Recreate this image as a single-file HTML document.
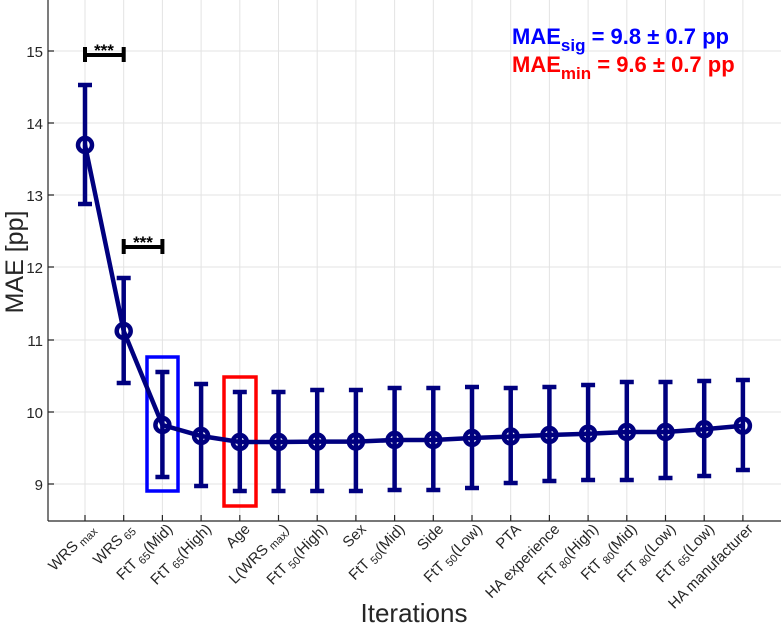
<!DOCTYPE html>
<html><head><meta charset="utf-8"><style>body{margin:0;background:#fff}svg{display:block;font-family:"Liberation Sans",Arial,sans-serif}</style></head>
<body>
<svg width="781" height="626" viewBox="0 0 781 626" xmlns="http://www.w3.org/2000/svg">
<g stroke="#e3e3e3" stroke-width="1">
<line x1="48" y1="51" x2="781" y2="51"/><line x1="48" y1="123" x2="781" y2="123"/><line x1="48" y1="195" x2="781" y2="195"/><line x1="48" y1="267" x2="781" y2="267"/><line x1="48" y1="340" x2="781" y2="340"/><line x1="48" y1="412" x2="781" y2="412"/><line x1="48" y1="484" x2="781" y2="484"/>
<line x1="85" y1="0" x2="85" y2="521"/><line x1="123.7" y1="0" x2="123.7" y2="521"/><line x1="162.4" y1="0" x2="162.4" y2="521"/><line x1="201.1" y1="0" x2="201.1" y2="521"/><line x1="239.8" y1="0" x2="239.8" y2="521"/><line x1="278.5" y1="0" x2="278.5" y2="521"/><line x1="317.2" y1="0" x2="317.2" y2="521"/><line x1="355.9" y1="0" x2="355.9" y2="521"/><line x1="394.6" y1="0" x2="394.6" y2="521"/><line x1="433.3" y1="0" x2="433.3" y2="521"/><line x1="472" y1="0" x2="472" y2="521"/><line x1="510.7" y1="0" x2="510.7" y2="521"/><line x1="549.4" y1="0" x2="549.4" y2="521"/><line x1="588.1" y1="0" x2="588.1" y2="521"/><line x1="626.8" y1="0" x2="626.8" y2="521"/><line x1="665.5" y1="0" x2="665.5" y2="521"/><line x1="704.2" y1="0" x2="704.2" y2="521"/><line x1="742.9" y1="0" x2="742.9" y2="521"/>
</g>
<g stroke="#262626" stroke-width="1.2">
<line x1="48" y1="0" x2="48" y2="521"/><line x1="48" y1="521" x2="781" y2="521"/>
<path d="M48 51h6M48 123h6M48 195h6M48 267h6M48 340h6M48 412h6M48 484h6"/>
<path d="M85 521v-6M123.7 521v-6M162.4 521v-6M201.1 521v-6M239.8 521v-6M278.5 521v-6M317.2 521v-6M355.9 521v-6M394.6 521v-6M433.3 521v-6M472 521v-6M510.7 521v-6M549.4 521v-6M588.1 521v-6M626.8 521v-6M665.5 521v-6M704.2 521v-6M742.9 521v-6"/>
</g>
<g font-size="15" fill="#262626" text-anchor="end">
<text x="43" y="57">15</text><text x="43" y="129">14</text><text x="43" y="201">13</text><text x="43" y="273">12</text><text x="43" y="346">11</text><text x="43" y="418">10</text><text x="43" y="490">9</text>
</g>
<g font-size="15" fill="#262626" text-anchor="end">
<text transform="translate(96,530) rotate(-45)">WRS<tspan font-size="11" dy="3"> max</tspan></text>
<text transform="translate(134.7,530) rotate(-45)">WRS<tspan font-size="11" dy="3"> 65</tspan></text>
<text transform="translate(173.4,530) rotate(-45)">FtT<tspan font-size="11" dy="3"> 65</tspan><tspan dy="-3">(Mid)</tspan></text>
<text transform="translate(212.1,530) rotate(-45)">FtT<tspan font-size="11" dy="3"> 65</tspan><tspan dy="-3">(High)</tspan></text>
<text transform="translate(250.8,530) rotate(-45)">Age</text>
<text transform="translate(289.5,530) rotate(-45)">L(WRS<tspan font-size="11" dy="3"> max</tspan><tspan dy="-3">)</tspan></text>
<text transform="translate(328.2,530) rotate(-45)">FtT<tspan font-size="11" dy="3"> 50</tspan><tspan dy="-3">(High)</tspan></text>
<text transform="translate(366.9,530) rotate(-45)">Sex</text>
<text transform="translate(405.6,530) rotate(-45)">FtT<tspan font-size="11" dy="3"> 50</tspan><tspan dy="-3">(Mid)</tspan></text>
<text transform="translate(444.3,530) rotate(-45)">Side</text>
<text transform="translate(483,530) rotate(-45)">FtT<tspan font-size="11" dy="3"> 50</tspan><tspan dy="-3">(Low)</tspan></text>
<text transform="translate(521.7,530) rotate(-45)">PTA</text>
<text transform="translate(560.4,530) rotate(-45)">HA experience</text>
<text transform="translate(599.1,530) rotate(-45)">FtT<tspan font-size="11" dy="3"> 80</tspan><tspan dy="-3">(High)</tspan></text>
<text transform="translate(637.8,530) rotate(-45)">FtT<tspan font-size="11" dy="3"> 80</tspan><tspan dy="-3">(Mid)</tspan></text>
<text transform="translate(676.5,530) rotate(-45)">FtT<tspan font-size="11" dy="3"> 80</tspan><tspan dy="-3">(Low)</tspan></text>
<text transform="translate(715.2,530) rotate(-45)">FtT<tspan font-size="11" dy="3"> 65</tspan><tspan dy="-3">(Low)</tspan></text>
<text transform="translate(753.9,530) rotate(-45)">HA manufacturer</text>
</g>
<text x="414" y="622" font-size="26" fill="#262626" text-anchor="middle">Iterations</text>
<text transform="translate(23,262) rotate(-90)" font-size="25" fill="#262626" text-anchor="middle">MAE [pp]</text>
<rect x="147" y="357" width="31" height="134" fill="none" stroke="#0000ff" stroke-width="3.5"/>
<rect x="224" y="377" width="32" height="129" fill="none" stroke="#ff0000" stroke-width="3.5"/>
<g stroke="#000" stroke-width="4" fill="none">
<path d="M85 55H123.7M85 47v15M123.7 47v15"/>
<path d="M123.7 247H162.4M123.7 239v15M162.4 239v15"/>
</g>
<g font-size="17" font-weight="bold" fill="#000" text-anchor="middle"><text x="104" y="56">***</text><text x="143" y="248">***</text></g>
<g stroke="#00007f" stroke-width="4.5" fill="none">
<path d="M85 85V204M78 85h14M78 204h14
M123.7 278V383M116.7 278h14M116.7 383h14
M162.4 372V477M155.4 372h14M155.4 477h14
M201.1 384V486M194.1 384h14M194.1 486h14
M239.8 392V491M232.8 392h14M232.8 491h14
M278.5 392V491M271.5 392h14M271.5 491h14
M317.2 390V491M310.2 390h14M310.2 491h14
M355.9 390V491M348.9 390h14M348.9 491h14
M394.6 388V490M387.6 388h14M387.6 490h14
M433.3 388V490M426.3 388h14M426.3 490h14
M472 387V488M465 387h14M465 488h14
M510.7 388V483M503.7 388h14M503.7 483h14
M549.4 387V481M542.4 387h14M542.4 481h14
M588.1 385V480M581.1 385h14M581.1 480h14
M626.8 382V480M619.8 382h14M619.8 480h14
M665.5 382V478M658.5 382h14M658.5 478h14
M704.2 381V476M697.2 381h14M697.2 476h14
M742.9 380V470M735.9 380h14M735.9 470h14"/>
<polyline points="85,145 123.7,331 162.4,425 201.1,436 239.8,442 278.5,442 317.2,441.6 355.9,441.6 394.6,440 433.3,440 472,438 510.7,436.5 549.4,435 588.1,433.7 626.8,432 665.5,432 704.2,429.3 742.9,425.7"/>
<g fill="none"><circle cx="85" cy="145" r="7"/><circle cx="123.7" cy="331" r="7"/><circle cx="162.4" cy="425" r="7"/><circle cx="201.1" cy="436" r="7"/><circle cx="239.8" cy="442" r="7"/><circle cx="278.5" cy="442" r="7"/><circle cx="317.2" cy="441.6" r="7"/><circle cx="355.9" cy="441.6" r="7"/><circle cx="394.6" cy="440" r="7"/><circle cx="433.3" cy="440" r="7"/><circle cx="472" cy="438" r="7"/><circle cx="510.7" cy="436.5" r="7"/><circle cx="549.4" cy="435" r="7"/><circle cx="588.1" cy="433.7" r="7"/><circle cx="626.8" cy="432" r="7"/><circle cx="665.5" cy="432" r="7"/><circle cx="704.2" cy="429.3" r="7"/><circle cx="742.9" cy="425.7" r="7"/></g>
</g>
<g font-size="22" font-weight="bold">
<text x="512" y="44" fill="#0000ff">MAE<tspan font-size="17" dy="7">sig</tspan><tspan dy="-7"> = 9.8 ± 0.7 pp</tspan></text>
<text x="512" y="72" fill="#ff0000">MAE<tspan font-size="17" dy="7">min</tspan><tspan dy="-7"> = 9.6 ± 0.7 pp</tspan></text>
</g>
</svg>
</body></html>
